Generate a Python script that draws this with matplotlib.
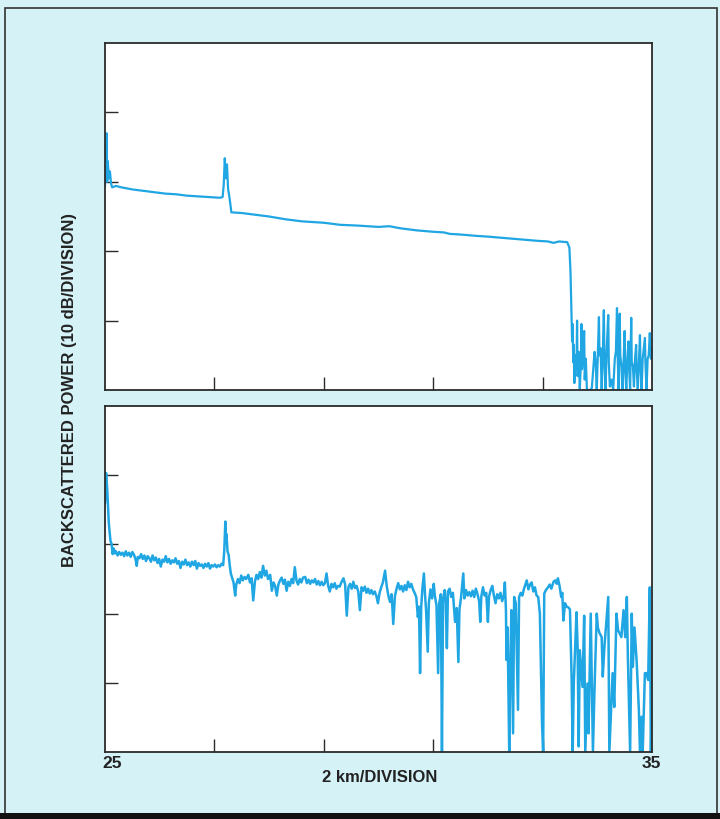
import matplotlib
matplotlib.use("Agg")
import matplotlib.pyplot as plt
from matplotlib.patches import Rectangle

# ---------------- data ----------------
x_ticks = [27, 29, 31, 33]
x_end_labels = ["25", "35"]
x_end_values = [25, 35]
y_ticks = [10, 20, 30, 40]

# upper trace: distance (km), backscattered power (dB)
top_km = [25.00, 25.01, 25.02, 25.03, 25.04, 25.05, 25.07, 25.09, 25.11, 25.13,
          25.2, 25.3, 25.5, 25.7, 25.9, 26.1, 26.3, 26.5, 26.7, 26.9, 27.1,
          27.15, 27.17, 27.19, 27.21, 27.23, 27.25, 27.28, 27.31,
          27.5, 27.8, 28.0, 28.3, 28.6, 29.0, 29.3, 29.6, 30.0, 30.2, 30.4,
          30.7, 31.0, 31.2, 31.3, 31.5, 31.8, 32.0, 32.3, 32.6, 32.9, 33.1,
          33.2, 33.3, 33.45, 33.49, 33.51, 33.53, 33.54,
          33.55, 33.56, 33.57, 33.58, 33.60, 33.62, 33.63, 33.64, 33.66, 33.68,
          33.70, 33.71, 33.72, 33.74, 33.76, 33.77, 33.79, 33.81, 33.84, 33.87,
          33.90, 33.93, 33.95, 33.97, 33.99, 34.01, 34.03, 34.04, 34.06, 34.08,
          34.10, 34.12, 34.13, 34.15, 34.17, 34.20, 34.21, 34.23, 34.26, 34.29,
          34.32, 34.34, 34.36, 34.37, 34.39, 34.41, 34.42, 34.44, 34.46, 34.48,
          34.50, 34.51, 34.53, 34.55, 34.57, 34.58, 34.60, 34.62, 34.63, 34.65,
          34.67, 34.69, 34.71, 34.72, 34.74, 34.76, 34.78, 34.79, 34.81, 34.83,
          34.85, 34.87, 34.88, 34.90, 34.92, 34.94, 34.96, 34.98, 35.00]
top_db = [29.5, 35.5, 31.0, 37.0, 30.0, 33.0, 30.5, 31.5, 29.8, 29.2,
          29.4, 29.2, 28.9, 28.7, 28.5, 28.3, 28.2, 28.0, 27.9, 27.8, 27.7,
          27.8, 29.5, 33.4, 30.5, 32.5, 29.0, 27.5, 25.6,
          25.5, 25.2, 25.0, 24.6, 24.3, 24.1, 23.8, 23.7, 23.5, 23.6, 23.3,
          23.0, 22.8, 22.7, 22.5, 22.4, 22.2, 22.1, 21.9, 21.7, 21.5, 21.4,
          21.2, 21.4, 21.3, 20.5, 17.0, 10.0, 7.0,
          9.5, 4.0, 6.5, 1.0, 5.0, 3.0, 10.0, 2.0, 5.5, 0.2,
          4.0, 9.5, 3.0, 5.0, 8.5, 1.5, 4.5, 0.0, 0.0, 0.0,
          0.3, 3.5, 5.5, 4.0, 0.0, 5.5, 10.5, 5.0, 6.0, 0.0,
          5.0, 11.5, 4.5, 0.0, 5.5, 10.8, 4.0, 0.5, 1.5, 0.0,
          4.5, 5.5, 11.8, 5.5, 0.0, 11.0, 5.0, 3.5, 0.0, 4.0,
          8.5, 3.0, 0.0, 4.5, 7.0, 3.5, 0.0, 10.4, 4.0, 3.5,
          0.5, 4.5, 6.5, 3.0, 0.0, 4.0, 7.9, 3.5, 0.0, 4.5,
          6.0, 7.5, 4.0, 0.0, 4.5, 5.0, 8.2, 4.5, 6.0]

# lower trace: distance (km), backscattered power (dB)
bot_km = [25.00, 25.02, 25.04, 25.07, 25.10,
          25.12, 25.14, 25.16, 25.18, 25.20, 25.23, 25.26, 25.29, 25.32, 25.35,
          25.38, 25.41, 25.44, 25.47, 25.50, 25.53, 25.56, 25.58, 25.60, 25.63,
          25.66, 25.69, 25.72, 25.75, 25.78, 25.81, 25.84, 25.87, 25.90, 25.93,
          25.96, 25.99, 26.02, 26.05, 26.08, 26.11, 26.14, 26.17, 26.20, 26.23,
          26.26, 26.29, 26.32, 26.35, 26.38, 26.41, 26.44, 26.47, 26.50, 26.53,
          26.56, 26.59, 26.62, 26.65, 26.68, 26.71, 26.74, 26.77, 26.80, 26.83,
          26.86, 26.89, 26.92, 26.95, 26.98, 27.01, 27.04, 27.07, 27.10, 27.13,
          27.16, 27.18, 27.20, 27.21, 27.22, 27.24, 27.26, 27.28, 27.30, 27.32,
          27.35, 27.38, 27.40, 27.43, 27.46, 27.49, 27.52, 27.55, 27.58, 27.62,
          27.65, 27.68, 27.71, 27.74, 27.77, 27.80, 27.83, 27.86, 27.89, 27.92,
          27.95, 27.98, 28.02, 28.05, 28.08, 28.11, 28.14, 28.17, 28.20, 28.23,
          28.26, 28.29, 28.32, 28.35, 28.38, 28.41, 28.44, 28.47, 28.50, 28.53,
          28.56, 28.59, 28.62, 28.66, 28.69, 28.72, 28.75, 28.78, 28.81, 28.84,
          28.87, 28.90, 28.93, 28.96, 28.99, 29.02, 29.05, 29.08, 29.11, 29.14,
          29.17, 29.20, 29.23, 29.26, 29.29, 29.32, 29.36, 29.39, 29.42, 29.45,
          29.48, 29.51, 29.54, 29.57, 29.60, 29.63, 29.66, 29.69, 29.72, 29.75,
          29.78, 29.81, 29.84, 29.87, 29.90, 29.93, 29.96, 29.99, 30.02, 30.05,
          30.08, 30.12, 30.15, 30.18, 30.21, 30.24, 30.27, 30.30, 30.33, 30.36,
          30.39, 30.42, 30.45, 30.48, 30.51, 30.54, 30.57, 30.60, 30.63, 30.66,
          30.69, 30.72, 30.74, 30.76, 30.78, 30.80, 30.83, 30.85, 30.87, 30.90,
          30.92, 30.95, 30.98, 31.01, 31.03, 31.06, 31.09, 31.11, 31.14, 31.16,
          31.18, 31.21, 31.23, 31.25, 31.27, 31.30, 31.33, 31.36, 31.40, 31.43,
          31.46, 31.48, 31.51, 31.55, 31.57, 31.60, 31.63, 31.66, 31.69, 31.72,
          31.75, 31.78, 31.81, 31.84, 31.86, 31.88, 31.91, 31.94, 31.97, 32.00,
          32.02, 32.05, 32.08, 32.11, 32.14, 32.17, 32.20, 32.23, 32.26, 32.29,
          32.31, 32.33, 32.34, 32.36, 32.39, 32.41, 32.43, 32.46, 32.48, 32.51,
          32.55, 32.57, 32.60, 32.63, 32.66, 32.71, 32.74, 32.77, 32.80, 32.83,
          32.86, 32.89, 32.92, 32.95, 32.97, 32.99, 33.01, 33.03, 33.06, 33.10,
          33.13, 33.16, 33.20, 33.23, 33.26, 33.28, 33.31, 33.34, 33.36, 33.38,
          33.41, 33.44, 33.47, 33.50,
          33.53, 33.55, 33.57, 33.62, 33.64, 33.66, 33.68, 33.73, 33.76, 33.78,
          33.82, 33.84, 33.88, 33.92, 33.95, 33.99, 34.01, 34.04, 34.08, 34.10,
          34.13, 34.20, 34.22, 34.28, 34.31, 34.35, 34.38, 34.44, 34.48, 34.51,
          34.54, 34.56, 34.60, 34.63, 34.65, 34.68, 34.72, 34.76, 34.78, 34.81,
          34.83, 34.87, 34.90, 34.93, 34.96, 34.98, 35.00]
bot_db = [36.0, 40.3, 38.0, 33.0, 30.5,
          30.1, 28.6, 29.4, 28.7, 29.0, 28.4, 28.9, 28.5, 28.8, 28.3,
          29.0, 28.4, 28.8, 28.2, 28.9, 28.5, 27.8, 26.9, 28.2, 28.0,
          28.6, 27.9, 28.4, 27.6, 28.3, 28.0, 27.5, 28.4, 27.7, 28.1,
          27.3, 27.9, 26.8, 27.8, 27.5, 28.3, 27.4, 27.9, 27.2, 27.7,
          27.4, 28.0, 27.2, 27.6, 26.6, 27.5, 27.1, 27.8, 27.0, 27.4,
          26.8, 27.5, 27.0, 27.6, 26.5, 27.3, 26.9, 27.1, 26.6, 27.2,
          26.8, 27.3, 26.5, 27.0, 26.8, 27.1, 26.7, 27.0, 26.8, 27.2,
          27.0, 29.0, 33.3, 30.5, 31.5, 29.0, 28.5, 27.0, 25.8, 25.3,
          24.5, 22.6, 24.2, 25.0, 24.4, 25.5, 24.8, 25.3, 25.0, 25.6,
          24.5, 25.1, 21.9, 24.6, 25.6, 25.0, 26.0, 25.2, 26.9, 25.5,
          26.2, 25.0, 25.6, 23.3, 24.5, 24.0, 22.6, 24.2, 24.8, 25.2,
          24.3, 24.9, 23.3, 24.6, 24.0, 25.0, 24.4, 26.7, 24.8, 24.2,
          25.0, 24.5, 25.2, 25.3, 24.4, 24.9, 24.3, 24.8, 24.5, 25.0,
          24.2, 24.7, 24.1, 24.6, 24.1, 24.4, 25.8, 24.0, 23.2, 24.3,
          23.8, 24.4, 23.6, 24.0, 23.9, 24.5, 25.1, 24.2, 19.7, 23.8,
          24.3, 23.6, 24.6, 23.7, 24.0, 23.2, 20.5, 23.8, 23.3, 23.9,
          23.0, 23.6, 22.9, 23.4, 22.8, 23.2, 22.6, 21.5, 23.0, 23.8,
          24.5, 26.2, 24.0, 22.6, 21.7, 22.8, 18.5, 22.5, 23.6, 24.4,
          23.5, 24.0, 23.2, 24.1, 23.4, 24.6, 23.8, 24.3, 23.5, 23.0,
          22.4, 19.5, 21.0, 11.4, 20.8, 23.4, 25.8, 22.8, 20.5, 14.5,
          21.5, 23.5, 22.2, 24.3, 22.6, 21.2, 11.4, 21.5, 22.8, 0.0,
          22.0, 23.4, 21.5, 15.0, 23.2, 23.6, 22.4, 23.0, 18.8, 20.8,
          13.0, 20.6, 22.4, 25.8, 22.2, 23.4, 22.6, 23.1, 22.5, 23.3,
          22.4, 23.6, 22.8, 21.8, 18.8, 22.5, 23.8, 22.6, 23.0, 18.8,
          22.4, 23.4, 24.0, 22.6, 21.5, 22.8, 22.2, 23.0, 21.8, 22.6,
          24.5, 20.5, 13.3, 18.0, 0.0, 12.5, 20.5, 2.7, 22.4, 21.5,
          6.1, 22.4, 23.0, 22.6, 23.6, 24.8, 23.5, 24.2, 24.5, 23.2,
          23.8, 22.6, 22.4, 20.0, 12.3, 4.0, 0.0, 22.9, 23.4, 23.8,
          24.2, 23.6, 24.6, 24.8, 24.3, 25.1, 24.0, 22.4, 23.0, 19.0,
          21.5, 21.0, 20.9, 20.6,
          10.9, 0.0, 9.9, 20.2, 15.2, 0.8, 14.7, 9.4, 19.7, 0.0,
          9.9, 2.7, 20.0, 0.0, 9.4, 20.0, 18.0, 17.2, 16.6, 10.9,
          15.2, 22.4, 0.0, 11.4, 6.5, 20.0, 17.6, 16.6, 20.5, 16.6,
          22.4, 13.3, 0.0, 20.0, 12.3, 18.0, 13.0, 6.1, 0.0, 5.1,
          0.0, 11.4, 11.4, 10.4, 23.8, 0.0, 10.0]

# ---------------- style ----------------
bg = "#d5f2f7"
trace_color = "#1fa6e3"
spine_color = "#2b2b2b"
text_color = "#222222"
font_family = ["Liberation Sans Narrow", "Liberation Sans", "DejaVu Sans"]

fig = plt.figure(figsize=(7.2, 8.19), dpi=100)
fig.patch.set_facecolor(bg)

# outer frame
fig.patches.append(Rectangle((5 / 720, 1 - 815 / 819), 712 / 720, 807 / 819,
                             transform=fig.transFigure, fill=False,
                             edgecolor="#333333", linewidth=1.2))
fig.patches.append(Rectangle((0, 0), 1, 6 / 819, transform=fig.transFigure,
                             facecolor="#111111", edgecolor="none"))

left = 105 / 720
width = (652 - 105) / 720
ax_top = fig.add_axes([left, 1 - 390 / 819, width, (390 - 43) / 819])
ax_bot = fig.add_axes([left, 1 - 752 / 819, width, (752 - 406) / 819])

for ax in (ax_top, ax_bot):
    ax.set_facecolor("white")
    ax.set_xlim(25, 35)
    ax.set_ylim(0, 50)
    ax.set_xticks(x_ticks)
    ax.set_yticks(y_ticks)
    ax.tick_params(direction="in", length=9.5, width=1.0, color=spine_color,
                   top=False, right=False, labelleft=False, labelbottom=False)
    for s in ax.spines.values():
        s.set_color(spine_color)
        s.set_linewidth(1.3)

ax_top.plot(top_km, top_db, color=trace_color, linewidth=1.6, clip_on=True)
ax_bot.plot(bot_km, bot_db, color=trace_color, linewidth=1.8, clip_on=True)

# end labels of the distance axis, slightly inset as in the original
for val, lab, dx in zip(x_end_values, x_end_labels, [7, -1]):
    ax_bot.annotate(lab, xy=(val, 0), xycoords="data",
                    xytext=(dx, -12), textcoords="offset pixels",
                    ha="center", va="center", fontsize=12.5,
                    fontweight="bold", family=font_family, color=text_color)

fig.text(380 / 720, 1 - 778 / 819, "2 km/DIVISION", ha="center", va="center",
         fontsize=12, fontweight="bold", family=font_family, color=text_color)
fig.text(70 / 720, 1 - 390 / 819, "BACKSCATTERED POWER (10 dB/DIVISION)",
         rotation=90, ha="center", va="center", fontsize=12,
         fontweight="bold", family=font_family, color=text_color)

fig.savefig("out.png", dpi=100, facecolor=fig.get_facecolor())
